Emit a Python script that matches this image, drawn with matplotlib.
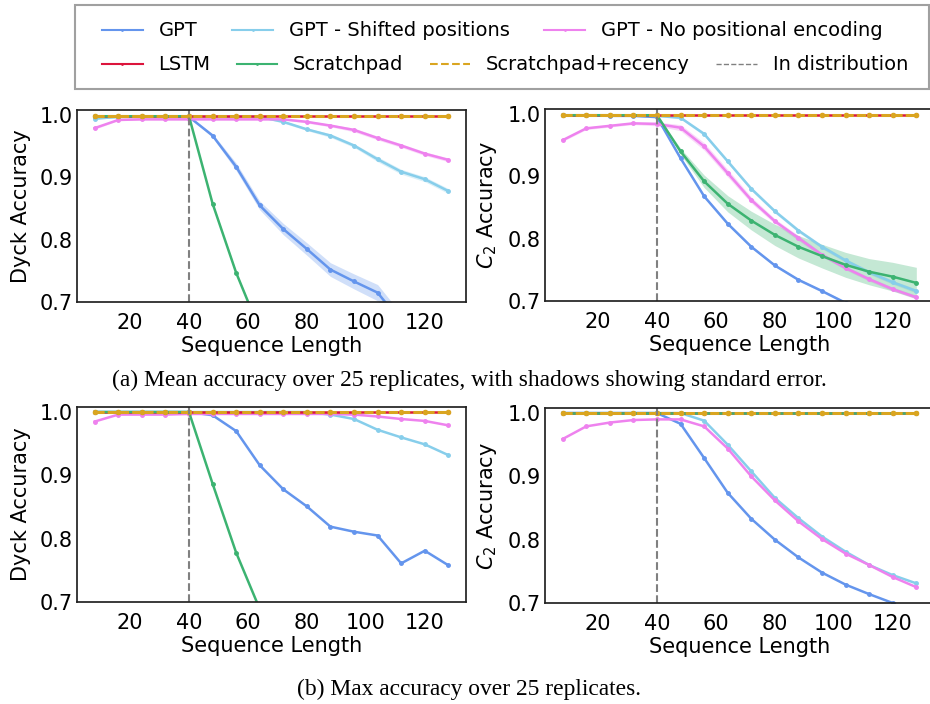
import matplotlib
matplotlib.use("Agg")
import matplotlib.pyplot as plt
from matplotlib.lines import Line2D
from matplotlib.patches import Rectangle
import numpy as np

seq_len = [8, 16, 24, 32, 40, 48, 56, 64, 72, 80, 88, 96, 104, 112, 120, 128]
in_dist = 40

# (a) mean accuracy, with standard error
mean_dyck_gpt = [0.997, 0.997, 0.997, 0.997, 0.997, 0.967, 0.917, 0.855, 0.817, 0.785, 0.752, 0.733, 0.715, 0.668, 0.655, 0.640]
mean_dyck_gpt_err = [0.001, 0.001, 0.001, 0.001, 0.001, 0.003, 0.006, 0.007, 0.009, 0.010, 0.011, 0.012, 0.013, 0.013, 0.013, 0.013]
mean_dyck_shift = [0.994, 0.997, 0.997, 0.997, 0.997, 0.997, 0.997, 0.997, 0.989, 0.977, 0.967, 0.951, 0.929, 0.909, 0.897, 0.878]
mean_dyck_shift_err = [0.001, 0.001, 0.001, 0.001, 0.001, 0.001, 0.001, 0.001, 0.002, 0.002, 0.003, 0.003, 0.004, 0.004, 0.004, 0.004]
mean_dyck_nopos = [0.979, 0.992, 0.993, 0.993, 0.993, 0.993, 0.993, 0.993, 0.993, 0.989, 0.983, 0.976, 0.963, 0.951, 0.938, 0.928]
mean_dyck_nopos_err = [0.002, 0.001, 0.001, 0.001, 0.001, 0.001, 0.001, 0.001, 0.001, 0.002, 0.002, 0.003, 0.003, 0.003, 0.003, 0.003]
mean_dyck_lstm = [0.998, 0.998, 0.998, 0.998, 0.998, 0.998, 0.998, 0.998, 0.998, 0.998, 0.998, 0.998, 0.998, 0.998, 0.998, 0.998]
mean_dyck_scratch = [0.998, 0.998, 0.998, 0.998, 0.998, 0.858, 0.747, 0.655, 0.590, 0.540, 0.500, 0.470, 0.440, 0.420, 0.400, 0.380]
mean_dyck_scratch_err = [0.0, 0.0, 0.0, 0.0, 0.0, 0.002, 0.002, 0.002, 0.002, 0.002, 0.002, 0.002, 0.002, 0.002, 0.002, 0.002]
mean_dyck_recency = [0.998, 0.998, 0.998, 0.998, 0.998, 0.998, 0.998, 0.998, 0.998, 0.998, 0.998, 0.998, 0.998, 0.998, 0.998, 0.998]

mean_c2_gpt = [0.998, 0.998, 0.997, 0.997, 0.995, 0.929, 0.868, 0.824, 0.787, 0.757, 0.734, 0.716, 0.697, 0.684, 0.672, 0.661]
mean_c2_gpt_err = [0.001, 0.001, 0.001, 0.001, 0.001, 0.002, 0.002, 0.002, 0.002, 0.002, 0.002, 0.002, 0.002, 0.002, 0.002, 0.002]
mean_c2_shift = [0.998, 0.998, 0.998, 0.998, 0.997, 0.994, 0.968, 0.924, 0.880, 0.844, 0.813, 0.787, 0.765, 0.746, 0.730, 0.716]
mean_c2_shift_err = [0.001, 0.001, 0.001, 0.001, 0.001, 0.002, 0.003, 0.003, 0.003, 0.003, 0.003, 0.003, 0.003, 0.003, 0.003, 0.003]
mean_c2_nopos = [0.958, 0.977, 0.981, 0.985, 0.984, 0.978, 0.948, 0.905, 0.862, 0.828, 0.801, 0.774, 0.753, 0.735, 0.719, 0.706]
mean_c2_nopos_err = [0.002, 0.002, 0.002, 0.002, 0.003, 0.005, 0.006, 0.006, 0.005, 0.004, 0.004, 0.003, 0.003, 0.003, 0.003, 0.003]
mean_c2_lstm = [0.998, 0.998, 0.998, 0.998, 0.998, 0.998, 0.998, 0.998, 0.998, 0.998, 0.998, 0.998, 0.998, 0.998, 0.998, 0.998]
mean_c2_scratch = [0.998, 0.998, 0.998, 0.998, 0.998, 0.940, 0.892, 0.856, 0.829, 0.806, 0.787, 0.772, 0.758, 0.747, 0.739, 0.729]
mean_c2_scratch_err = [0.0, 0.0, 0.0, 0.0, 0.0, 0.005, 0.010, 0.013, 0.015, 0.017, 0.018, 0.019, 0.020, 0.021, 0.023, 0.025]
mean_c2_recency = [0.998, 0.998, 0.998, 0.998, 0.998, 0.998, 0.998, 0.998, 0.998, 0.998, 0.998, 0.998, 0.998, 0.998, 0.998, 0.998]

# (b) max accuracy
max_dyck_gpt = [1.0, 1.0, 1.0, 1.0, 1.0, 0.995, 0.970, 0.916, 0.878, 0.851, 0.819, 0.811, 0.805, 0.761, 0.781, 0.758]
max_dyck_shift = [1.0, 1.0, 1.0, 1.0, 1.0, 1.0, 1.0, 1.0, 1.0, 1.0, 0.996, 0.989, 0.972, 0.960, 0.949, 0.932]
max_dyck_nopos = [0.985, 0.996, 0.996, 0.996, 0.997, 0.997, 0.997, 0.997, 0.997, 0.997, 0.997, 0.996, 0.993, 0.989, 0.986, 0.979]
max_dyck_lstm = [1.0, 1.0, 1.0, 1.0, 1.0, 1.0, 1.0, 1.0, 1.0, 1.0, 1.0, 1.0, 1.0, 1.0, 1.0, 1.0]
max_dyck_scratch = [1.0, 1.0, 1.0, 1.0, 1.0, 0.887, 0.778, 0.689, 0.620, 0.570, 0.530, 0.500, 0.470, 0.450, 0.430, 0.410]
max_dyck_recency = [1.0, 1.0, 1.0, 1.0, 1.0, 1.0, 1.0, 1.0, 1.0, 1.0, 1.0, 1.0, 1.0, 1.0, 1.0, 1.0]

max_c2_gpt = [1.0, 1.0, 1.0, 1.0, 1.0, 0.983, 0.929, 0.874, 0.833, 0.800, 0.772, 0.748, 0.729, 0.714, 0.700, 0.688]
max_c2_shift = [1.0, 1.0, 1.0, 1.0, 1.0, 1.0, 0.988, 0.950, 0.908, 0.866, 0.834, 0.805, 0.781, 0.760, 0.744, 0.731]
max_c2_nopos = [0.959, 0.979, 0.985, 0.989, 0.990, 0.990, 0.979, 0.944, 0.900, 0.862, 0.829, 0.801, 0.778, 0.760, 0.741, 0.725]
max_c2_lstm = [1.0, 1.0, 1.0, 1.0, 1.0, 1.0, 1.0, 1.0, 1.0, 1.0, 1.0, 1.0, 1.0, 1.0, 1.0, 1.0]
max_c2_scratch = [1.0, 1.0, 1.0, 1.0, 1.0, 1.0, 1.0, 1.0, 1.0, 1.0, 1.0, 1.0, 1.0, 1.0, 1.0, 1.0]
max_c2_recency = [1.0, 1.0, 1.0, 1.0, 1.0, 1.0, 1.0, 1.0, 1.0, 1.0, 1.0, 1.0, 1.0, 1.0, 1.0, 1.0]

names = ["GPT", "GPT - Shifted positions", "GPT - No positional encoding",
         "LSTM", "Scratchpad", "Scratchpad+recency"]
colors = ["cornflowerblue", "skyblue", "violet", "crimson", "mediumseagreen", "goldenrod"]

panels = [
    # (rect in px, ylabel, series, errors)
    ([77, 110, 389, 192], "Dyck Accuracy",
     [mean_dyck_gpt, mean_dyck_shift, mean_dyck_nopos, mean_dyck_lstm, mean_dyck_scratch, mean_dyck_recency],
     [mean_dyck_gpt_err, mean_dyck_shift_err, mean_dyck_nopos_err, None, mean_dyck_scratch_err, None]),
    ([545, 109, 389, 192], "$C_2$ Accuracy",
     [mean_c2_gpt, mean_c2_shift, mean_c2_nopos, mean_c2_lstm, mean_c2_scratch, mean_c2_recency],
     [mean_c2_gpt_err, mean_c2_shift_err, mean_c2_nopos_err, None, mean_c2_scratch_err, None]),
    ([77, 407, 389, 195], "Dyck Accuracy",
     [max_dyck_gpt, max_dyck_shift, max_dyck_nopos, max_dyck_lstm, max_dyck_scratch, max_dyck_recency],
     [None] * 6),
    ([545, 408, 389, 195], "$C_2$ Accuracy",
     [max_c2_gpt, max_c2_shift, max_c2_nopos, max_c2_lstm, max_c2_scratch, max_c2_recency],
     [None] * 6),
]

W, H = 930, 704
fig = plt.figure(figsize=(W / 100, H / 100), dpi=100)
x = np.array(seq_len)

for rect, ylab, series, errs in panels:
    l, t, w, h = rect
    ax = fig.add_axes([l / W, (H - t - h) / H, w / W, h / H])
    for i, (ys, e) in enumerate(zip(series, errs)):
        ys = np.array(ys)
        if i == 5:
            ax.plot(x, ys, color=colors[i], lw=2.2, ls=(0, (3, 1)), marker='.', ms=6)
        else:
            ax.plot(x, ys, color=colors[i], lw=1.8, marker='.', ms=5)
        if e is not None:
            e = np.array(e)
            ax.fill_between(x, ys - e, ys + e, color=colors[i], alpha=0.3, lw=0)
    ax.axvline(in_dist, color='gray', ls='--', lw=1.5)
    ax.set_xlim(2, 134)
    ax.set_ylim(0.7, 1.008)
    ax.set_xticks([20, 40, 60, 80, 100, 120])
    ax.set_yticks([0.7, 0.8, 0.9, 1.0])
    ax.tick_params(length=0, labelsize=15)
    ax.tick_params(axis='x', pad=8)
    ax.tick_params(axis='y', pad=3)
    ax.set_xlabel("Sequence Length", fontsize=15, labelpad=2)
    ax.set_ylabel(ylab, fontsize=15, labelpad=6)
    for s in ax.spines.values():
        s.set_linewidth(1.25)
        s.set_color('#222222')

# legend rows, each row laid out on its own
row1 = [Line2D([], [], color=colors[i], lw=1.5, marker='.', ms=2) for i in range(3)]
row2 = [Line2D([], [], color=colors[3], lw=1.5, marker='.', ms=2),
        Line2D([], [], color=colors[4], lw=1.5, marker='.', ms=2),
        Line2D([], [], color=colors[5], lw=1.5, ls='--'),
        Line2D([], [], color='gray', lw=1.0, ls='--')]
lkw = dict(loc='center left', frameon=False, fontsize=14, handlelength=2.1,
           handletextpad=0.8, borderpad=0, borderaxespad=0)
fig.legend(row1, names[:3], ncol=3, columnspacing=1.8,
           bbox_to_anchor=(102 / W, 1 - 31 / H), **lkw)
fig.legend(row2, names[3:] + ["In distribution"], ncol=4, columnspacing=1.35,
           bbox_to_anchor=(102 / W, 1 - 65 / H), **lkw)
fig.patches.append(Rectangle((75 / W, 1 - 89 / H), 854 / W, 84 / H, transform=fig.transFigure,
                             fill=False, edgecolor='#a0a0a0', lw=1.5))

cap = dict(ha='center', va='center', fontsize=16.9, family='Liberation Serif')
fig.text(469 / W, 1 - 380 / H, "(a) Mean accuracy over 25 replicates, with shadows showing standard error.", **cap)
fig.text(469 / W, 1 - 689 / H, "(b) Max accuracy over 25 replicates.", **cap)

fig.savefig("out.png", dpi=100)
